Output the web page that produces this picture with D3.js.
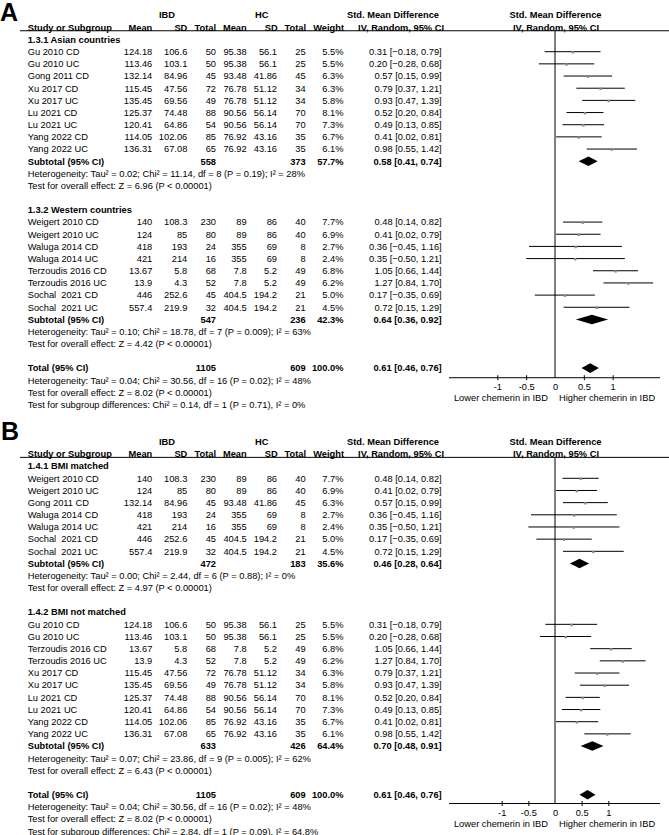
<!DOCTYPE html>
<html><head><meta charset="utf-8">
<script src="https://cdn.jsdelivr.net/npm/d3@7"></script>
<style>
body{margin:0;background:#fff}
svg{display:block;background:#fff}
text{font-family:"Liberation Sans",Arial,Helvetica,sans-serif;fill:#000;white-space:pre}
</style>
</head><body>
<svg id="chart" width="669" height="835"></svg>
<script>
// ---------- data ----------
const studyNames = ["Gu 2010 CD","Gu 2010 UC","Gong 2011 CD","Xu 2017 CD","Xu 2017 UC","Lu 2021 CD","Lu 2021 UC","Yang 2022 CD","Yang 2022 UC",
  "Weigert 2010 CD","Weigert 2010 UC","Waluga 2014 CD","Waluga 2014 UC","Terzoudis 2016 CD","Terzoudis 2016 UC","Sochal  2021 CD","Sochal  2021 UC"];
const ibdMean = [124.18,113.46,132.14,115.45,135.45,125.37,120.41,114.05,136.31,140,124,418,421,13.67,13.9,446,557.4];
const ibdSD   = [106.6,103.1,84.96,47.56,69.56,74.48,64.86,102.06,67.08,108.3,85,193,214,5.8,4.3,252.6,219.9];
const ibdN    = [50,50,45,72,49,88,54,85,65,230,80,24,16,68,52,45,32];
const hcMean  = [95.38,95.38,93.48,76.78,76.78,90.56,90.56,76.92,76.92,89,89,355,355,7.8,7.8,404.5,404.5];
const hcSD    = [56.1,56.1,41.86,51.12,51.12,56.14,56.14,43.16,43.16,86,86,69,69,5.2,5.2,194.2,194.2];
const hcN     = [25,25,45,34,34,70,70,35,35,40,40,8,8,49,49,21,21];
const weightPct = [5.5,5.5,6.3,6.3,5.8,8.1,7.3,6.7,6.1,7.7,6.9,2.7,2.4,6.8,6.2,5.0,4.5];
const smd     = [0.31,0.20,0.57,0.79,0.93,0.52,0.49,0.41,0.98,0.48,0.41,0.36,0.35,1.05,1.27,0.17,0.72];
const ciLow   = [-0.18,-0.28,0.15,0.37,0.47,0.20,0.13,0.02,0.55,0.14,0.02,-0.45,-0.50,0.66,0.84,-0.35,0.15];
const ciHigh  = [0.79,0.68,0.99,1.21,1.39,0.84,0.85,0.81,1.42,0.82,0.79,1.16,1.21,1.44,1.70,0.69,1.29];

// panel A subgroups
const groupTitlesA = ["1.3.1 Asian countries","1.3.2 Western countries"];
const groupMembersA = [[0,1,2,3,4,5,6,7,8],[9,10,11,12,13,14,15,16]];
const subIbdNA = [558,547], subHcNA = [373,236], subWeightA = [57.7,42.3];
const subSmdA = [0.58,0.64], subLowA = [0.41,0.36], subHighA = [0.74,0.92];
const subHetA = ["Heterogeneity: Tau² = 0.02; Chi² = 11.14, df = 8 (P = 0.19); I² = 28%",
                 "Heterogeneity: Tau² = 0.10; Chi² = 18.78, df = 7 (P = 0.009); I² = 63%"];
const subTestA = ["Test for overall effect: Z = 6.96 (P < 0.00001)","Test for overall effect: Z = 4.42 (P < 0.00001)"];
const subDiffA = "Test for subgroup differences: Chi² = 0.14, df = 1 (P = 0.71), I² = 0%";

// panel B subgroups
const groupTitlesB = ["1.4.1 BMI matched","1.4.2 BMI not matched"];
const groupMembersB = [[9,10,2,11,12,15,16],[0,1,13,14,3,4,5,6,7,8]];
const subIbdNB = [472,633], subHcNB = [183,426], subWeightB = [35.6,64.4];
const subSmdB = [0.46,0.70], subLowB = [0.28,0.48], subHighB = [0.64,0.91];
const subHetB = ["Heterogeneity: Tau² = 0.00; Chi² = 2.44, df = 6 (P = 0.88); I² = 0%",
                 "Heterogeneity: Tau² = 0.07; Chi² = 23.86, df = 9 (P = 0.005); I² = 62%"];
const subTestB = ["Test for overall effect: Z = 4.97 (P < 0.00001)","Test for overall effect: Z = 6.43 (P < 0.00001)"];
const subDiffB = "Test for subgroup differences: Chi² = 2.84, df = 1 (P = 0.09), I² = 64.8%";

// overall
const totalIbdN = 1105, totalHcN = 609, totalWeight = 100.0;
const totalSmd = 0.61, totalLow = 0.46, totalHigh = 0.76;
const totalHet = "Heterogeneity: Tau² = 0.04; Chi² = 30.56, df = 16 (P = 0.02); I² = 48%";
const totalTest = "Test for overall effect: Z = 8.02 (P < 0.00001)";

const tickValues = [-1,-0.5,0,0.5,1];
const axisLabels = ["Lower chemerin in IBD","Higher chemerin in IBD"];

// ---------- drawing ----------
const svg = d3.select("#chart");
const FS = 9.3, ROW = 12.17, BASE = 3.3;
const colX = {ibdMean:152.3, ibdSD:187.3, ibdN:216, hcMean:246.7, hcSD:277, hcN:305.7, weight:343.5, ci:441.7};
const f2 = d3.format(".2f"), f1 = d3.format(".1f");
const ciStr = (m,l,h) => `${f2(m)} [${f2(l)}, ${f2(h)}]`;

function txt(g, x, y, s, opt={}) {
  return g.append("text").attr("x", x).attr("y", y + BASE)
    .attr("font-size", opt.size || FS)
    .attr("font-weight", opt.bold ? "bold" : "normal")
    .attr("text-anchor", opt.anchor || "start")
    .text(s);
}

function diamond(g, x, m, l, h, yy) {
  const hh = 4.8;
  g.append("path").attr("d", `M${x(l)},${yy}L${x(m)},${yy - hh}L${x(h)},${yy}L${x(m)},${yy + hh}Z`)
    .attr("fill", "#000");
}

function drawPanel(cfg) {
  const g = svg.append("g");
  const y = i => cfg.base + i * ROW;
  const x = d3.scaleLinear().domain([-1, 1]).range([555 - cfg.unit, 555 + cfg.unit]);

  // panel letter
  g.append("text").attr("x", cfg.letterX).attr("y", cfg.letterY).attr("font-size", 25)
    .attr("font-weight", "bold").text(cfg.letter);

  // headers
  txt(g, 167, y(-3), "IBD", {bold:true, anchor:"middle"});
  txt(g, 261.7, y(-3), "HC", {bold:true, anchor:"middle"});
  txt(g, 393, y(-3), "Std. Mean Difference", {bold:true, anchor:"middle"});
  txt(g, 555.5, y(-3), "Std. Mean Difference", {bold:true, anchor:"middle"});
  txt(g, 27.7, y(-2), "Study or Subgroup", {bold:true});
  [["Mean",152.3],["SD",187.3],["Total",216],["Mean",246.7],["SD",277.7],["Total",306],["Weight",344],["IV, Random, 95% CI",444]]
    .forEach(([s,xx]) => txt(g, xx, y(-2), s, {bold:true, anchor:"end"}));
  txt(g, 556, y(-2), "IV, Random, 95% CI", {bold:true, anchor:"middle"});
  const lineY = y(-2) + 3.4;
  g.append("line").attr("x1", 20).attr("x2", 669).attr("y1", lineY).attr("y2", lineY)
    .attr("stroke", "#000").attr("stroke-width", 1);

  let i = -1;
  cfg.groups.forEach((members, gi) => {
    txt(g, 27.7, y(i), cfg.titles[gi], {bold:true});
    members.forEach((s, k) => {
      const yy = y(i + 1 + k);
      txt(g, 27.7, yy, studyNames[s]);
      txt(g, colX.ibdMean, yy, String(ibdMean[s]), {anchor:"end"});
      txt(g, colX.ibdSD, yy, String(ibdSD[s]), {anchor:"end"});
      txt(g, colX.ibdN, yy, String(ibdN[s]), {anchor:"end"});
      txt(g, colX.hcMean, yy, String(hcMean[s]), {anchor:"end"});
      txt(g, colX.hcSD, yy, String(hcSD[s]), {anchor:"end"});
      txt(g, colX.hcN, yy, String(hcN[s]), {anchor:"end"});
      txt(g, colX.weight, yy, f1(weightPct[s]) + "%", {anchor:"end"});
      txt(g, colX.ci, yy, ciStr(smd[s], ciLow[s], ciHigh[s]), {anchor:"end"});
      g.append("line").attr("x1", x(ciLow[s])).attr("x2", x(ciHigh[s]))
        .attr("y1", yy).attr("y2", yy).attr("stroke", "#000").attr("stroke-width", 1);
      g.append("rect").attr("x", x(smd[s]) - 1.2).attr("y", yy - 0.6).attr("width", 2.4).attr("height", 2.4)
        .attr("fill", "#8a8a8a");
    });
    const sy = y(i + members.length + 1);
    txt(g, 27.7, sy, "Subtotal (95% CI)", {bold:true});
    txt(g, colX.ibdN, sy, String(cfg.subIbdN[gi]), {bold:true, anchor:"end"});
    txt(g, colX.hcN, sy, String(cfg.subHcN[gi]), {bold:true, anchor:"end"});
    txt(g, colX.weight, sy, f1(cfg.subWeight[gi]) + "%", {bold:true, anchor:"end"});
    txt(g, colX.ci, sy, ciStr(cfg.subSmd[gi], cfg.subLow[gi], cfg.subHigh[gi]), {bold:true, anchor:"end"});
    diamond(g, x, cfg.subSmd[gi], cfg.subLow[gi], cfg.subHigh[gi], sy);
    txt(g, 27.7, y(i + members.length + 2), cfg.het[gi]);
    txt(g, 27.7, y(i + members.length + 3), cfg.test[gi]);
    i = i + members.length + 5;
  });
  // total
  const ty = y(i);
  txt(g, 27.7, ty, "Total (95% CI)", {bold:true});
  txt(g, colX.ibdN, ty, String(totalIbdN), {bold:true, anchor:"end"});
  txt(g, colX.hcN, ty, String(totalHcN), {bold:true, anchor:"end"});
  txt(g, colX.weight, ty, f1(totalWeight) + "%", {bold:true, anchor:"end"});
  txt(g, colX.ci, ty, ciStr(totalSmd, totalLow, totalHigh), {bold:true, anchor:"end"});
  diamond(g, x, totalSmd, totalLow, totalHigh, ty);
  txt(g, 27.7, y(i + 1), totalHet);
  txt(g, 27.7, y(i + 2), totalTest);
  txt(g, 27.7, y(i + 3), cfg.diff);

  // axis
  const axisY = ty + cfg.axisOff;
  g.append("line").attr("x1", 555).attr("x2", 555).attr("y1", lineY).attr("y2", axisY)
    .attr("stroke", "#000").attr("stroke-width", 1);
  g.append("line").attr("x1", 449).attr("x2", 660).attr("y1", axisY).attr("y2", axisY)
    .attr("stroke", "#000").attr("stroke-width", 1);
  const ax = g.append("g").attr("transform", `translate(0,${axisY})`)
    .call(d3.axisBottom(x).tickValues(tickValues).tickSizeInner(3).tickSizeOuter(0).tickPadding(3)
      .tickFormat(d => String(d)));
  ax.select(".domain").remove();
  ax.selectAll(".tick line").attr("y1", d => d === 0 ? 0 : -2.5).attr("y2", d => d === 0 ? 0 : 2.5).attr("stroke", "#000");
  ax.selectAll(".tick text").attr("font-size", FS).attr("font-family", '"Liberation Sans",Arial,sans-serif').attr("fill", "#000");
  txt(g, 548, axisY + 20, axisLabels[0], {anchor:"end"});
  txt(g, 559, axisY + 20, axisLabels[1]);
}

drawPanel({letter:"A", letterX:0, letterY:21, base:51.7, unit:57.7, axisOff:9.6,
  groups:groupMembersA, titles:groupTitlesA, subIbdN:subIbdNA, subHcN:subHcNA, subWeight:subWeightA,
  subSmd:subSmdA, subLow:subLowA, subHigh:subHighA, het:subHetA, test:subTestA, diff:subDiffA});
drawPanel({letter:"B", letterX:1, letterY:440, base:478.3, unit:53.3, axisOff:8.8,
  groups:groupMembersB, titles:groupTitlesB, subIbdN:subIbdNB, subHcN:subHcNB, subWeight:subWeightB,
  subSmd:subSmdB, subLow:subLowB, subHigh:subHighB, het:subHetB, test:subTestB, diff:subDiffB});
</script>
</body></html>
